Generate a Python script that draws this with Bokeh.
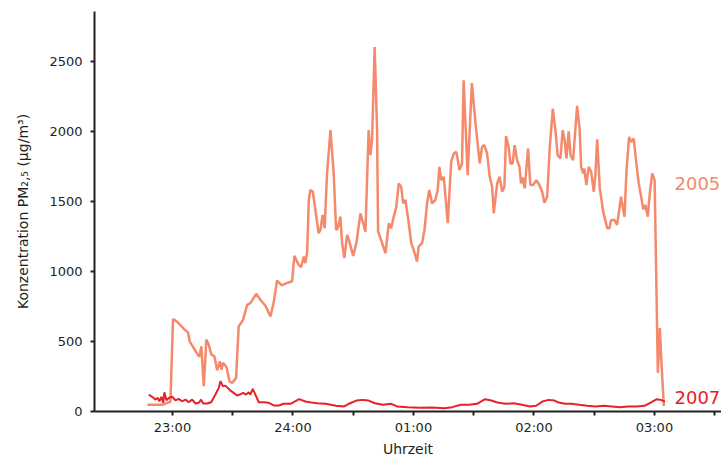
from bokeh.plotting import figure
from bokeh.models import Range1d, FixedTicker, ColumnDataSource
from bokeh.core.properties import value
from bokeh.embed import file_html
from bokeh.resources import INLINE

# time in minutes after 22:00 (60 = 23:00, 120 = 24:00, ...)
t_2005 = [47.6, 55.0, 57.0, 59.0, 60.3, 62.5, 66.1, 67.8, 68.6, 72.3, 73.4, 74.4, 75.6, 76.9,
          78.1, 79.4, 80.9, 82.3, 83.6, 84.4, 85.2, 86.9, 88.4, 89.7, 91.7, 93.0, 95.2, 97.2,
          98.8, 101.7, 103.8, 106.3, 108.8, 110.4, 112.1, 114.5, 116.5, 119.6, 120.7, 122.9,
          124.1, 125.4, 126.2, 127.1, 127.9, 128.7, 129.9, 131.2, 132.8, 133.7, 134.8, 135.8,
          137.0, 138.7, 140.3, 141.5, 142.3, 143.6, 144.5, 145.6, 147.0, 148.1, 150.0, 151.6,
          153.6, 155.0, 156.1, 157.7, 158.6, 159.4, 160.7, 161.9, 162.4, 163.6, 166.1, 167.7,
          168.9, 170.2, 171.5, 172.7, 173.9, 174.9, 176.0, 177.7, 178.9, 180.1, 181.8, 182.6,
          184.3, 185.5, 186.8, 187.9, 189.3, 190.9, 192.1, 192.9, 193.8, 195.1, 197.1, 198.8,
          200.1, 201.4, 202.9, 204.2, 205.0, 207.0, 209.1, 210.9, 213.0, 214.2, 215.3, 216.7,
          218.0, 219.2, 220.0, 221.7, 222.9, 224.2, 225.3, 226.1, 227.4, 228.3, 229.4, 230.4,
          231.6, 232.8, 233.6, 234.4, 235.4, 237.1, 238.2, 239.6, 241.2, 242.7, 244.1, 245.2,
          246.6, 247.9, 249.4, 250.7, 251.8, 253.2, 254.3, 255.3, 256.2, 257.3, 258.2, 259.5,
          261.5, 262.8, 263.5, 264.5, 265.1, 266.1, 267.3, 268.5, 269.8, 270.6, 271.5, 272.8,
          274.5, 276.5, 277.6, 278.4, 280.1, 281.4, 283.4, 284.2, 285.1, 286.1, 287.4, 288.4,
          289.7, 291.0, 292.2, 293.4, 294.4, 295.5, 296.7, 297.7, 298.9, 300.1, 301.7, 302.7,
          303.5, 304.7]
pm_2005 = [48, 48, 60, 70, 660, 639, 584, 565, 501, 413, 390, 465, 180, 513,
           477, 406, 394, 294, 358, 299, 347, 318, 216, 204, 240, 608, 655, 762,
           774, 840, 798, 755, 679, 776, 935, 900, 915, 930, 1111, 1047,
           1031, 1106, 1059, 1142, 1510, 1581, 1569, 1439, 1273, 1296, 1403, 1308,
           1700, 2009, 1700, 1296, 1308, 1391, 1202, 1095, 1261, 1213, 1111, 1202,
           1415, 1344, 1284, 2009, 1830, 1937, 2602, 2009, 1284, 1237, 1130, 1344,
           1308, 1391, 1462, 1628, 1605, 1486, 1510, 1344, 1202, 1154, 1071, 1177,
           1202, 1296, 1486, 1581, 1486, 1510, 1581, 1747, 1652, 1676, 1344, 1783,
           1842, 1854, 1724, 1771, 2365, 1688, 2345, 2060, 1771, 1890, 1902, 1842,
           1676, 1605, 1415, 1628, 1676, 1569, 1605, 1966, 1890, 1771, 1771, 1902,
           1795, 1747, 1628, 1671, 1593, 1878, 1617, 1617, 1652, 1617, 1569, 1491,
           1533, 1890, 2163, 2009, 1830, 1807, 2009, 1937, 1807, 2001, 1830, 1795,
           2182, 2009, 1747, 1700, 1735, 1617, 1747, 1712, 1569, 1688, 1944, 1593,
           1427, 1308, 1308, 1368, 1368, 1332, 1533, 1462, 1391, 1724, 1961, 1925,
           1949, 1771, 1628, 1533, 1443, 1474, 1391, 1558, 1700, 1652, 276, 596,
           347, 38]

t_2007 = [48.2, 49.9, 51.5, 52.7, 53.5, 54.5, 55.4, 56.0, 57.0, 58.2, 59.9, 61.5, 63.1, 64.8,
          66.5, 68.1, 69.8, 71.5, 73.1, 74.3, 75.3, 77.3, 79.3, 81.4, 83.1, 83.9, 85.2, 86.4,
          87.5, 89.2, 90.5, 92.2, 93.5, 95.2, 96.7, 98.0, 98.8, 100.0, 101.3, 103.0, 105.5,
          108.0, 110.4, 113.0, 115.4, 118.8, 123.1, 126.2, 129.2, 132.2, 136.3, 141.4, 145.5,
          148.5, 151.6, 154.6, 157.7, 160.8, 164.8, 168.9, 171.9, 177.0, 183.1, 189.3, 195.4,
          199.4, 203.5, 207.6, 211.7, 215.7, 218.8, 221.8, 225.9, 230.0, 234.0, 238.1, 241.1,
          244.2, 247.3, 250.3, 252.3, 255.4, 258.5, 262.5, 266.6, 270.7, 274.8, 278.8, 282.9,
          286.9, 291.0, 295.1, 298.1, 301.2, 303.2, 305.3]
pm_2007 = [121, 105, 85, 97, 73, 105, 62, 137, 80, 97, 105, 80, 90, 73,
           85, 66, 85, 57, 62, 85, 57, 57, 66, 121, 169, 216, 180, 185,
           169, 145, 133, 114, 121, 133, 121, 137, 121, 162, 121, 66, 66,
           62, 43, 43, 55, 55, 88, 71, 64, 59, 55, 41, 36,
           59, 78, 83, 78, 59, 48, 55, 36, 31, 26, 28, 24,
           31, 48, 48, 55, 88, 78, 64, 55, 59, 48, 36, 41,
           71, 83, 78, 64, 55, 55, 48, 41, 36, 41, 36, 31,
           36, 36, 41, 64, 88, 83, 71]

tick_pos = [60, 90, 120, 150, 180, 210, 240, 270, 300, 330]
tick_lbl = ["23:00", "", "24:00", "", "01:00", "", "02:00", "", "03:00", ""]
y_ticks = [0, 500, 1000, 1500, 2000, 2500]

series_labels = ["2005", "2007"]
label_t = [310.0, 310.0]
label_pm = [1629, 103]

c2005 = "#f4896b"
c2007 = "#e8202a"
FONT = "DejaVu Sans"

p = figure(width=721, height=459, output_backend="svg", toolbar_location=None,
           x_range=Range1d(21.2, 333.4), y_range=Range1d(0, 2856),
           min_border_left=94, min_border_right=0, min_border_top=11, min_border_bottom=47)
p.outline_line_color = None
p.grid.visible = False
p.background_fill_color = "white"
p.border_fill_color = "white"

p.line(t_2005, pm_2005, line_color=c2005, line_width=2.5)
p.line(t_2007, pm_2007, line_color=c2007, line_width=2)

src = ColumnDataSource(dict(x=label_t, y=label_pm, t=series_labels, c=[c2005, c2007]))
p.text(x="x", y="y", text="t", text_color="c", source=src, text_font=value(FONT),
       text_font_size="18px", text_baseline="middle", text_align="left")

ax = p.xaxis[0]
ax.ticker = FixedTicker(ticks=tick_pos)
ax.major_label_overrides = {k: v for k, v in zip(tick_pos, tick_lbl)}
ax.axis_label = "Uhrzeit"

ay = p.yaxis[0]
ay.ticker = FixedTicker(ticks=y_ticks)
ay.axis_label = "Konzentration PM\u2082,\u2085 (\u00b5g/m\u00b3)"

for a in (ax, ay):
    a.axis_line_color = "#231f20"
    a.axis_line_width = 2
    a.major_tick_line_color = "#231f20"
    a.major_tick_line_width = 2
    a.major_tick_out = 4
    a.major_tick_in = 0
    a.minor_tick_out = 0
    a.minor_tick_in = 0
    a.major_label_text_font = FONT
    a.major_label_text_font_size = "13px"
    a.major_label_text_color = "#231f20"
    a.axis_label_text_font = FONT
    a.axis_label_text_font_size = "14px"
    a.axis_label_text_font_style = "normal"
    a.axis_label_text_color = "#231f20"

ax.major_label_standoff = 4
ax.axis_label_standoff = 3
ay.major_label_standoff = 8
ay.axis_label_standoff = 15

open("out.html", "w").write(file_html(p, INLINE))
